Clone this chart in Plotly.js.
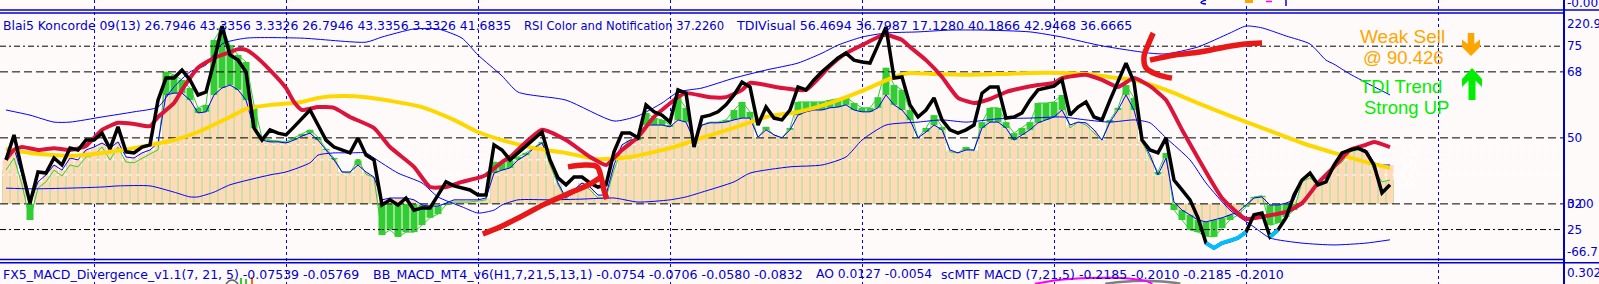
<!DOCTYPE html>
<html><head><meta charset="utf-8">
<script src="https://cdn.plot.ly/plotly-3.0.1.min.js"></script>
<style>html,body{margin:0;padding:0;background:#fffafa;overflow:hidden}#chart{width:1599px;height:284px}</style>
</head><body><div id="chart"></div>
<script>
// bar index (H1 bars), one per histogram bar
const barIndex = Array.from({length: 174}, (_, i) => i);

// Koncorde "marron" (peach histogram / thin blue line), on the TDI/RSI scale
const koncordeBrown = [44.0,47.2,39.9,32.2,38.0,39.9,42.6,41.2,44.5,44.0,
46.7,47.5,48.6,47.2,48.9,44.8,44.5,45.9,46.7,48.6,
61.7,62.2,62.2,60.3,56.8,57.1,61.7,63.6,64.4,63.1,
60.3,52.7,49.4,48.9,48.9,48.6,49.4,50.5,51.3,49.4,
46.7,44.0,40.7,40.7,42.6,40.7,39.3,33.1,33.6,33.6,
33.6,33.1,31.7,31.4,31.4,32.2,33.1,33.1,33.1,33.1,
33.6,40.4,41.2,41.8,44.0,45.3,47.2,48.6,44.0,37.7,
33.6,35.8,37.7,36.6,34.4,34.4,42.6,48.1,49.4,49.4,
53.5,53.5,53.5,53.0,54.9,54.3,49.4,53.5,54.1,54.1,
54.3,54.9,55.4,55.4,50.2,52.2,50.8,50.0,52.2,56.2,
57.1,57.6,57.6,58.2,58.4,59.0,57.6,57.1,57.1,58.2,
61.7,59.0,57.6,54.9,50.0,51.6,53.5,52.2,46.7,45.9,
46.7,46.7,52.7,54.3,54.3,52.7,49.4,50.8,52.2,54.1,
54.9,55.7,57.6,53.5,54.3,54.1,52.2,49.4,54.3,57.6,
61.7,57.6,49.4,45.3,39.9,44.5,32.5,30.3,29.0,27.6,
27.1,27.6,28.2,29.0,29.8,31.7,33.6,33.9,31.7,31.7,
32.2,33.1,38.5,39.9,38.0,39.1,42.6,44.5,46.7,47.2,
46.7,43.2,42.6,42.6];

// Koncorde "verde" (green histogram / thin green line)
const koncordeGreen = [41.2,44.5,37.2,27.6,36.3,38.0,41.2,39.6,42.6,42.1,
44.8,45.3,47.5,44.0,47.5,43.4,43.2,44.5,45.6,46.7,
68.0,67.2,65.8,63.6,58.2,59.0,76.7,80.0,75.3,72.6,
70.7,59.0,50.0,49.4,49.2,48.9,50.0,51.1,52.2,50.2,
47.0,44.5,40.7,40.4,44.2,40.1,39.1,23.5,24.9,23.0,
24.3,24.3,26.2,28.2,29.2,31.7,32.5,32.5,32.5,32.8,
33.1,43.4,43.2,44.0,44.8,45.9,47.5,48.9,42.6,37.2,
33.1,35.8,37.7,35.8,33.6,33.6,41.2,47.2,49.4,50.0,
56.8,55.4,54.9,53.5,61.1,58.2,48.9,53.5,54.3,54.3,
54.9,57.6,59.8,57.1,50.0,53.0,50.8,50.0,52.7,59.8,
59.8,59.8,59.8,60.3,60.6,61.1,59.5,58.2,58.2,61.1,
69.1,64.4,63.1,57.6,50.0,52.7,56.2,53.0,46.2,45.9,
47.5,46.4,54.3,58.2,58.2,54.3,51.3,52.7,54.3,59.5,
59.5,59.8,61.7,52.7,54.3,53.5,51.3,49.4,54.9,58.2,
64.4,60.9,48.9,44.5,40.7,45.9,30.3,27.6,24.9,24.3,
23.2,23.0,25.4,27.6,29.0,31.2,33.9,34.2,26.2,26.8,
28.4,30.3,38.0,39.1,37.2,38.0,41.8,43.4,46.2,46.7,
46.2,41.2,38.0,38.5];

// TDI RSI price line (black)
const rsiPrice = [44.0,50.8,41.2,32.2,40.7,40.4,44.5,42.6,47.2,46.7,
49.4,49.4,51.3,47.0,53.0,46.2,45.9,47.5,48.1,60.3,
66.3,66.3,68.5,65.8,61.7,62.5,70.7,80.5,72.6,71.2,
68.0,52.7,49.4,52.2,51.3,50.8,53.0,55.4,57.6,53.5,
49.4,47.5,46.7,45.9,50.0,45.3,44.0,31.7,33.1,31.7,
33.6,30.3,30.9,30.9,34.4,38.0,36.9,36.3,35.8,34.4,
34.4,48.1,46.7,44.0,45.9,47.8,49.7,51.6,44.0,39.1,
37.2,39.3,39.3,37.7,36.6,37.2,46.2,51.3,51.3,50.0,
59.0,57.1,56.2,54.3,63.1,62.2,47.5,55.7,56.2,57.1,
59.0,61.7,65.2,63.9,53.5,58.4,55.4,54.9,57.6,63.9,
63.1,65.8,68.0,69.9,71.8,73.1,71.2,70.7,70.4,75.3,
80.2,66.3,66.6,59.0,55.7,57.6,60.9,54.9,52.2,51.3,
52.2,53.5,62.2,63.9,63.9,55.4,55.7,56.8,60.3,63.1,
63.6,64.1,65.8,56.2,58.4,59.8,55.7,54.9,60.3,65.2,
70.4,65.2,49.4,46.7,45.9,50.0,38.5,35.8,33.1,28.2,
21.3,20.0,21.3,21.9,22.7,24.3,29.0,29.5,23.0,24.9,
28.2,34.4,38.5,40.4,37.2,38.0,42.6,45.9,46.7,47.2,
46.2,42.6,35.0,37.2];

// TDI trade signal line (red)
const signalIdx = [0,1,2,4,6,8,10,11,12,14,16,18,19,21,22,24,26,28,29,30,31,33,35,36,37,39,41,43,46,48,51,53,55,57,59,60,62,63,67,70,73,75,76,77,79,81,84,85,88,90,92,93,95,97,100,103,105,107,109,110,112,113,115,117,118,119,121,123,125,127,129,131,132,135,137,139,141,143,145,147,149,152,155,157,160,162,164,166,168,170,171,173];
const signalVal = [44.0,46.7,47.5,46.7,47.2,46.7,47.8,50.0,52.2,54.1,53.8,53.2,55.7,59.5,63.1,69.1,71.8,73.4,74.2,74.0,72.6,68.5,63.6,59.8,57.6,58.4,58.2,55.7,52.7,47.5,42.1,36.6,36.6,38.0,39.1,39.9,43.4,44.8,52.2,49.4,44.8,42.6,44.5,46.7,50.2,55.7,61.1,62.2,61.1,61.1,63.1,65.0,64.4,63.6,63.1,69.6,73.1,75.3,77.5,78.1,76.7,74.8,71.2,66.6,63.6,60.9,59.5,60.6,62.5,63.6,64.4,65.0,66.3,67.2,65.8,63.9,66.3,64.1,60.3,52.2,44.5,33.6,27.9,28.5,29.8,32.2,37.7,42.1,46.7,48.1,48.9,47.5];

// TDI market base line (yellow)
const baseIdx = [0,3,8,12,16,18,21,24,28,30,33,37,39,42,45,48,52,56,59,62,66,70,74,78,83,87,91,95,99,103,107,111,113,116,120,124,128,132,135,139,141,145,149,153,158,162,166,170,173];
const baseVal = [47.0,45.9,45.1,45.9,47.2,48.1,49.4,51.6,55.7,57.9,59.0,59.8,60.9,61.4,61.1,60.1,58.4,54.9,51.6,49.4,47.2,45.9,44.2,44.8,47.2,50.0,52.7,55.7,57.1,59.5,62.8,66.6,67.7,67.4,67.2,67.4,67.7,67.7,67.4,66.3,65.8,63.1,59.5,56.0,51.9,48.6,45.9,43.4,41.8];

// TDI volatility bands (thin blue)
const upperIdx = [0,3,6,8,12,16,19,21,23,25,27,30,37,45,47,51,54,57,59,62,64,70,76,79,82,84,87,91,95,99,102,104,107,110,114,118,122,128,132,137,143,145,149,153,155,157,160,163,165,166,168,173];
const upperVal = [57.6,56.2,54.3,54.3,55.7,57.1,58.4,63.9,68.0,69.9,75.6,77.2,77.2,76.1,77.5,79.7,79.7,77.2,72.6,66.9,62.5,60.3,54.6,56.0,59.5,62.5,63.6,66.3,68.5,70.4,73.1,75.3,77.5,78.6,78.9,79.4,79.4,78.9,77.5,75.1,73.1,72.9,74.8,78.6,80.5,80.0,77.8,75.6,71.2,70.1,67.4,61.7];
const lowerIdx = [0,3,8,12,14,18,21,23,24,26,28,33,35,38,39,41,43,45,46,49,52,54,57,59,61,62,64,68,72,76,79,83,85,87,91,93,98,102,105,107,110,114,117,120,124,128,132,135,138,141,143,145,148,150,153,156,158,162,166,170,173];
const lowerVal = [36.3,36.1,36.3,36.6,36.9,36.9,35.2,33.9,33.9,35.2,37.2,39.9,40.7,43.2,45.3,45.9,45.9,45.9,44.5,40.4,37.7,33.9,31.2,29.5,30.3,31.7,33.1,33.1,33.3,33.6,32.5,33.1,33.9,35.2,38.0,40.4,42.1,42.6,44.8,49.4,53.5,54.3,54.9,54.3,55.2,55.4,55.7,54.9,54.3,54.9,54.1,50.0,44.0,37.7,30.3,25.7,22.7,21.3,20.8,21.3,22.2];

// level lines and their tick labels
const levels = [75, 68, 50, 32, 25];
const levelDash = ['6px,3px,2px,3px', '8px,4px', '8px,4px', '8px,4px', '6px,3px,2px,3px'];
const whiteLevels = [48.1, 44.0, 39.9];
const whiteLevelText = ['68', '50', '32'];
const histBase = 32;
const oversold = 25;
const axisTickVals = [81.05, 75, 68, 50, 32, 25, 18.9, 13.2];
const axisTickText = ['220.9', '75', '68', '50', '32', '25', '-66.7', '0.302'];
const separatorIdx = [11, 35, 59, 83, 107, 131, 155, 179];

// glimpses of the neighbouring indicator windows (top strip / bottom strip)
const bottomMagentaX = [128.6, 131.8, 135.5, 139.3, 142.4, 143.3];
const bottomMagentaY = [10.2, 11.3, 11.8, 11.8, 11.0, 10.2];
const bottomGrayX = [137.4, 139.3, 143.0, 146.1, 146.8];
const bottomGrayY = [10.2, 10.7, 11.0, 10.5, 10.2];

// hand drawn red marks on the chart
const stroke1X = [59.6, 61.75, 64.25, 67.4, 70.5, 73.0, 74.25];
const stroke1Y = [23.8, 25.7, 28.4, 32.0, 35.0, 37.4, 39.1];
const stroke1HookX = [70.25, 72.4, 73.9, 74.4, 74.75, 75.1];
const stroke1HookY = [42.1, 42.6, 42.1, 39.1, 35.8, 33.3];
const stroke2aX = [143.4, 142.75, 142.25, 142.5, 144, 145.75];
const stroke2aY = [78.6, 75.3, 72.1, 69.1, 67.2, 66.3];
const stroke2bX = [143, 146.1, 149.25, 152.4, 154.9, 157];
const stroke2bY = [71.2, 72.6, 73.4, 74.8, 75.6, 75.9];

const XR = [-0.75, 194.625];
const YR = [10.15, 87.6];
const W = 1599, H = 284, PW = 1563;
const px = x => x / PW;
const py = y => 1 - y / H;

const traces = [];
traces.push({type: 'bar', x: barIndex, y: koncordeGreen.map(v => v - histBase), base: koncordeGreen.map(() => histBase),
  width: 0.875, marker: {color: '#32cd32', line: {width: 0}}});
traces.push({type: 'bar', x: barIndex, y: koncordeBrown.map(v => v - histBase), base: koncordeBrown.map(() => histBase),
  width: 0.875, marker: {color: '#ffdab9', line: {width: 0}}});
levels.forEach((lv, k) => traces.push({type: 'scatter', mode: 'lines', x: XR, y: [lv, lv],
  line: {color: '#000000', width: 1, dash: levelDash[k]}}));
whiteLevels.forEach(lv => traces.push({type: 'scatter', mode: 'lines', x: XR, y: [lv, lv],
  line: {color: '#ffffff', width: 1, dash: '4px,4px'}}));
traces.push({type: 'scatter', mode: 'lines', x: barIndex, y: koncordeGreen, line: {color: '#32cd32', width: 1}});
traces.push({type: 'scatter', mode: 'lines', x: barIndex, y: koncordeBrown, line: {color: '#0000ff', width: 1}});
traces.push({type: 'scatter', mode: 'lines', x: upperIdx, y: upperVal, line: {color: '#0000ff', width: 1, shape: 'spline', smoothing: 0.6}});
traces.push({type: 'scatter', mode: 'lines', x: lowerIdx, y: lowerVal, line: {color: '#0000ff', width: 1, shape: 'spline', smoothing: 0.6}});
traces.push({type: 'scatter', mode: 'lines', x: baseIdx, y: baseVal, line: {color: '#ffd700', width: 4, shape: 'spline', smoothing: 0.6}});
traces.push({type: 'scatter', mode: 'lines', x: signalIdx, y: signalVal, line: {color: '#dc143c', width: 4, shape: 'spline', smoothing: 0.5}});
traces.push({type: 'scatter', mode: 'lines', x: barIndex, y: rsiPrice, line: {color: '#000000', width: 3.5}});
traces.push({type: 'scatter', mode: 'lines', x: barIndex, y: rsiPrice.map(v => v <= oversold ? v : null),
  line: {color: '#00bfff', width: 4}, connectgaps: false});
traces.push({type: 'scatter', mode: 'lines', x: bottomGrayX, y: bottomGrayY, line: {color: '#808080', width: 2.5, shape: 'spline'}});
traces.push({type: 'scatter', mode: 'lines', x: bottomMagentaX, y: bottomMagentaY, line: {color: '#ff00ff', width: 2, shape: 'spline'}});
[[stroke1X, stroke1Y], [stroke1HookX, stroke1HookY], [stroke2aX, stroke2aY], [stroke2bX, stroke2bY]].forEach(s =>
  traces.push({type: 'scatter', mode: 'lines', x: s[0], y: s[1], line: {color: '#e81818', width: 5.5, shape: 'spline'}}));

const blueText = '#0000cd';
const ann = [];
function addText(t, x, y, color, size, family) {
  ann.push({text: t, xref: 'paper', yref: 'paper', x: px(x), y: py(y), xanchor: 'left', yanchor: 'middle',
    showarrow: false, font: {color: color, size: size, family: family || 'DejaVu Sans'}});
}
// indicator legends (one text per indicator, at its own place)
addText('Blai5 Koncorde 09(13) 26.7946 43.3356 3.3326 26.7946 43.3356 3.3326 41.6835', 1, 26, blueText, 12.4);
addText('RSI Color and Notification 37.2260', 522, 26, blueText, 11.6);
addText('TDIVisual 56.4694 36.7987 17.1280 40.1866 42.9468 36.6665', 734, 26, blueText, 12.6);
addText('FX5_MACD_Divergence_v1.1(7, 21, 5) -0.07539 -0.05769', 1, 274, blueText, 12.5);
addText('BB_MACD_MT4_v6(H1,7,21,5,13,1) -0.0754 -0.0706 -0.0580 -0.0832', 371, 274, blueText, 12.6);
addText('AO 0.0127 -0.0054', 814, 274, blueText, 12.3);
addText('scMTF MACD (7,21,5) -0.2185 -0.2010 -0.2185 -0.2010', 939, 274, blueText, 12.5);
addText('Weak Sell', 1358, 36, '#ffa500', 19, 'Liberation Sans');
addText('@ 90.426', 1361, 58, '#ffa500', 18.5, 'Liberation Sans');
addText('TDI Trend', 1358, 86, '#00ee00', 18.5, 'Liberation Sans');
addText('Strong UP', 1362, 107, '#00ee00', 18.5, 'Liberation Sans');
whiteLevelText.forEach((t, k) => addText(t, 1399, [152, 166, 182][k], '#ffffff', 12));
addText('0.00', 1565, 204, blueText, 12);
addText('-0.00', 1565, 3, blueText, 12);

function path(pts) { return 'M' + pts.map(p => px(p[0]) + ',' + py(p[1])).join('L') + 'Z'; }
const shapes = [
  {type: 'line', xref: 'paper', yref: 'paper', x0: 0, x1: W / PW, y0: py(10), y1: py(10), line: {color: '#0000cd', width: 1.5}},
  {type: 'line', xref: 'paper', yref: 'paper', x0: 0, x1: 1, y0: py(13), y1: py(13), line: {color: '#0000cd', width: 1.5}},
  {type: 'line', xref: 'paper', yref: 'paper', x0: 0, x1: 1, y0: py(259.5), y1: py(259.5), line: {color: '#0000cd', width: 1.5}},
  {type: 'line', xref: 'paper', yref: 'paper', x0: 0, x1: W / PW, y0: py(262.7), y1: py(262.7), line: {color: '#0000cd', width: 1.5}},
  {type: 'path', xref: 'paper', yref: 'paper', fillcolor: '#ffa500', line: {width: 0},
   path: path([[1467.7,33],[1474.3,33],[1474.3,44],[1480,39.5],[1480,47],[1471,56],[1462,47],[1462,39.5],[1467.7,44]])},
  {type: 'path', xref: 'paper', yref: 'paper', fillcolor: '#00ee00', line: {width: 0},
   path: path([[1472,68],[1482,79],[1482,87],[1475.5,80.5],[1475.5,100],[1468.5,100],[1468.5,80.5],[1462,87],[1462,79]])},
  // small marks from the indicator window above
  {type: 'path', xref: 'paper', yref: 'paper', fillcolor: 'rgba(0,0,0,0)', line: {color: '#0000ff', width: 1.5},
   path: 'M' + px(1206) + ',' + py(0) + 'Q' + px(1196) + ',' + py(3) + ' ' + px(1206) + ',' + py(4)},
  {type: 'rect', xref: 'paper', yref: 'paper', x0: px(1245), x1: px(1253), y0: py(3), y1: py(0), fillcolor: '#ffa500', line: {width: 0}},
  {type: 'line', xref: 'paper', yref: 'paper', x0: px(1266), x1: px(1272), y0: py(1.5), y1: py(1.5), line: {color: '#ff00ff', width: 1.5}},
  {type: 'line', xref: 'paper', yref: 'paper', x0: px(1286), x1: px(1286), y0: py(0), y1: py(6), line: {color: '#0000ff', width: 1.5}},
  // small marks from the indicator window below
  {type: 'line', xref: 'paper', yref: 'paper', x0: px(241), x1: px(241), y0: py(278), y1: py(284), line: {color: '#32cd32', width: 2}},
  {type: 'line', xref: 'paper', yref: 'paper', x0: px(246), x1: px(246), y0: py(279), y1: py(284), line: {color: '#32cd32', width: 2}},
  {type: 'line', xref: 'paper', yref: 'paper', x0: px(252), x1: px(252), y0: py(277), y1: py(284), line: {color: '#ff6a00', width: 2}},
  {type: 'path', xref: 'paper', yref: 'paper', fillcolor: 'rgba(0,0,0,0)', line: {color: '#606060', width: 1.5},
   path: 'M' + px(226) + ',' + py(284) + 'Q' + px(232) + ',' + py(276) + ' ' + px(238) + ',' + py(284)}
];

const layout = {
  width: W, height: H, margin: {l: 0, r: W - PW, t: 0, b: 0},
  paper_bgcolor: '#fffafa', plot_bgcolor: '#fffafa', showlegend: false, barmode: 'overlay',
  xaxis: {range: XR, showgrid: true, tickmode: 'array', tickvals: separatorIdx, gridcolor: '#0000ff', griddash: '3px,3px',
    gridwidth: 1, showticklabels: false, zeroline: false, showline: false, ticks: ''},
  yaxis: {range: YR, side: 'right', showgrid: false, zeroline: false, showline: true, linecolor: '#0000cd', linewidth: 1.5,
    tickmode: 'array', tickvals: axisTickVals, ticktext: axisTickText, ticks: '', ticklen: 0,
    tickfont: {family: 'DejaVu Sans', size: 12, color: blueText}},
  annotations: ann, shapes: shapes
};
Plotly.newPlot('chart', traces, layout, {staticPlot: true, displayModeBar: false});
</script></body></html>
